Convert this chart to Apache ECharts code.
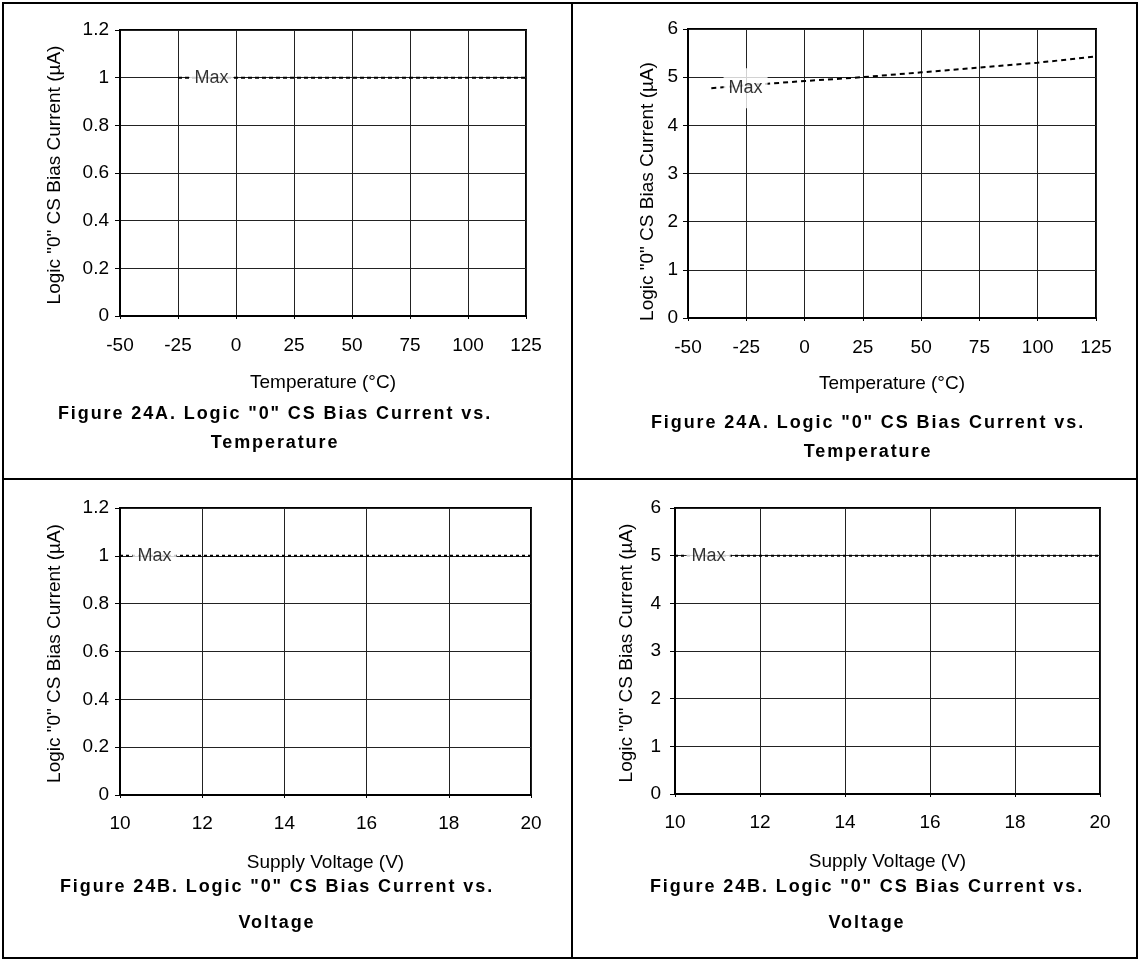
<!DOCTYPE html>
<html><head><meta charset="utf-8">
<script src="https://cdn.jsdelivr.net/npm/echarts@6/dist/echarts.min.js"></script>
<style>
html,body{margin:0;padding:0;background:#fff}
#wrap{position:relative;width:1140px;height:961px}
#main,#cap{position:absolute;left:0;top:0;width:1140px;height:961px}
#cap{pointer-events:none}
</style>
</head><body><div id="wrap"><div id="main"></div><div id="cap"></div></div>
<script>
// ---------------- data ----------------
const tempCA = [-25, 0, 25, 50, 75, 100, 125];
const maxCurrentVsTempA = [1, 1, 1, 1, 1, 1, 1];
const tempCB = [-40, -25, 0, 25, 50, 75, 100, 125];
const maxCurrentVsTempB = [4.77, 4.83, 4.92, 5.0, 5.1, 5.2, 5.3, 5.43];
const supplyV = [10, 12, 14, 16, 18, 20];
const maxCurrentVsVoltA = [1, 1, 1, 1, 1, 1];
const maxCurrentVsVoltB = [5, 5, 5, 5, 5, 5];
const tempAxis = {min: -50, max: 125, interval: 25};
const voltAxis = {min: 10, max: 20, interval: 2};
const currentAxisSmall = {min: 0, max: 1.2, interval: 0.2};
const currentAxisLarge = {min: 0, max: 6, interval: 1};
const seriesLabel = 'Max';
const maxLabelAt = [[-10.6, 1], [-25.3, 4.77], [10.84, 1], [10.79, 5]];
const xTitles = ['Temperature (°C)', 'Temperature (°C)', 'Supply Voltage (V)', 'Supply Voltage (V)'];
const yTitle = 'Logic "0" CS Bias Current (µA)';
const captions = [
  ['Figure 24A. Logic "0" CS Bias Current vs.', 'Temperature'],
  ['Figure 24A. Logic "0" CS Bias Current vs.', 'Temperature'],
  ['Figure 24B. Logic "0" CS Bias Current vs.', 'Voltage'],
  ['Figure 24B. Logic "0" CS Bias Current vs.', 'Voltage']
];

// ---------------- layout ----------------
const FONT = "'Liberation Sans', Arial, Helvetica, sans-serif";
const panels = [
  {xs: tempCA, ys: maxCurrentVsTempA, xa: tempAxis, ya: currentAxisSmall,
   grid: {left: 120, top: 30, width: 406, height: 286}, dash: [4, 3],
   yNameGap: 56, yShift: 2, yLabelMargin: 11, xLabelMargin: 20, xNameGap: 57, cap: [275, 414, 443]},
  {xs: tempCB, ys: maxCurrentVsTempB, xa: tempAxis, ya: currentAxisLarge,
   grid: {left: 688, top: 29, width: 408, height: 289}, dash: [5, 4],
   yNameGap: 31, yShift: 18, yLabelMargin: 10, xLabelMargin: 20, xNameGap: 56, cap: [868, 423, 452]},
  {xs: supplyV, ys: maxCurrentVsVoltA, xa: voltAxis, ya: currentAxisSmall,
   grid: {left: 120, top: 508, width: 411, height: 287}, dash: [3, 3],
   yNameGap: 56, yShift: 2, yLabelMargin: 11, xLabelMargin: 19, xNameGap: 58, cap: [277, 887, 923]},
  {xs: supplyV, ys: maxCurrentVsVoltB, xa: voltAxis, ya: currentAxisLarge,
   grid: {left: 675, top: 508, width: 425, height: 286}, dash: [3, 3],
   yNameGap: 39, yShift: 2, yLabelMargin: 14, xLabelMargin: 19, xNameGap: 58, cap: [867, 887, 923]}
];

const grid = [], xAxis = [], yAxis = [], series = [];
panels.forEach((p, i) => {
  grid.push(Object.assign({show: true, borderColor: '#000', borderWidth: 2, containLabel: false}, p.grid));
  xAxis.push({
    type: 'value', gridIndex: i, min: p.xa.min, max: p.xa.max, interval: p.xa.interval,
    name: xTitles[i], nameLocation: 'middle', nameGap: p.xNameGap,
    nameTextStyle: {fontFamily: FONT, fontSize: 19, color: '#000'},
    axisLine: {show: true, onZero: false, lineStyle: {color: '#000', width: 2}},
    axisTick: {show: true, length: 3, lineStyle: {color: '#000', width: 1}},
    axisLabel: {margin: p.xLabelMargin, fontFamily: FONT, fontSize: 19, color: '#000'},
    splitLine: {show: true, lineStyle: {color: '#222', width: 1}}
  });
  yAxis.push({
    type: 'value', gridIndex: i, min: p.ya.min, max: p.ya.max, interval: p.ya.interval,
    name: yTitle, nameLocation: 'middle', nameGap: p.yNameGap, nameRotate: 90,
    nameTextStyle: {fontFamily: FONT, fontSize: 19, color: '#000', padding: [0, p.yShift * 2, 0, 0]},
    axisLine: {show: true, onZero: false, lineStyle: {color: '#000', width: 2}},
    axisTick: {show: true, length: 5, lineStyle: {color: '#000', width: 1}},
    axisLabel: {margin: p.yLabelMargin, fontFamily: FONT, fontSize: 19, color: '#000'},
    splitLine: {show: true, lineStyle: {color: '#222', width: 1}}
  });
  series.push({
    type: 'line', name: seriesLabel, xAxisIndex: i, yAxisIndex: i,
    data: p.xs.map((x, k) => [x, p.ys[k]]),
    showSymbol: false, symbol: 'none', smooth: false, silent: true,
    lineStyle: {color: '#000', width: 2, type: p.dash}, z: 3
  });
  series.push({
    type: 'scatter', xAxisIndex: i, yAxisIndex: i, silent: true, z: 10,
    data: [maxLabelAt[i]], symbolSize: 1, itemStyle: {color: 'rgba(0,0,0,0)'},
    label: {show: true, position: 'inside', formatter: seriesLabel, fontFamily: FONT, fontSize: 18,
            color: '#000', backgroundColor: '#fff', padding: [11, 5]}
  });
});

const frame = [
  {type: 'rect', shape: {x: 3, y: 3, width: 1134, height: 955}, style: {fill: 'none', stroke: '#000', lineWidth: 2}, silent: true},
  {type: 'line', shape: {x1: 572, y1: 3, x2: 572, y2: 958}, style: {stroke: '#000', lineWidth: 2}, silent: true},
  {type: 'line', shape: {x1: 3, y1: 479, x2: 1137, y2: 479}, style: {stroke: '#000', lineWidth: 2}, silent: true}
];

const chart = echarts.init(document.getElementById('main'), null, {renderer: 'canvas'});
chart.setOption({
  animation: false, backgroundColor: '#fff',
  grid, xAxis, yAxis, series, graphic: frame
});

// captions: bold text drawn with extra letter spacing
const capChart = echarts.init(document.getElementById('cap'), null, {renderer: 'canvas'});
capChart.setOption({animation: false, graphic: [{type: 'rect', silent: true, shape: {x: 0, y: 0, width: 1, height: 1}, style: {fill: 'rgba(0,0,0,0)'}}]});
capChart.getZr().refreshImmediately();
document.querySelectorAll('#cap canvas').forEach(cv => {
  const ctx = cv.getContext('2d');
  const orig = ctx.fillText;
  ctx.fillText = function () { try { this.letterSpacing = '1.9px'; } catch (e) {} return orig.apply(this, arguments); };
  try { ctx.letterSpacing = '1.9px'; } catch (e) {}
});
const capEls = [];
panels.forEach((p, i) => {
  captions[i].forEach((t, k) => {
    capEls.push({type: 'text', x: p.cap[0], y: p.cap[1 + k], silent: true,
      style: {text: t, fontFamily: FONT, fontWeight: 'bold', fontSize: 18, fill: '#000',
              textAlign: 'center', textVerticalAlign: 'middle'}});
  });
});
capChart.setOption({animation: false, graphic: capEls}, {notMerge: true});
capChart.getZr().refreshImmediately();
</script></body></html>
